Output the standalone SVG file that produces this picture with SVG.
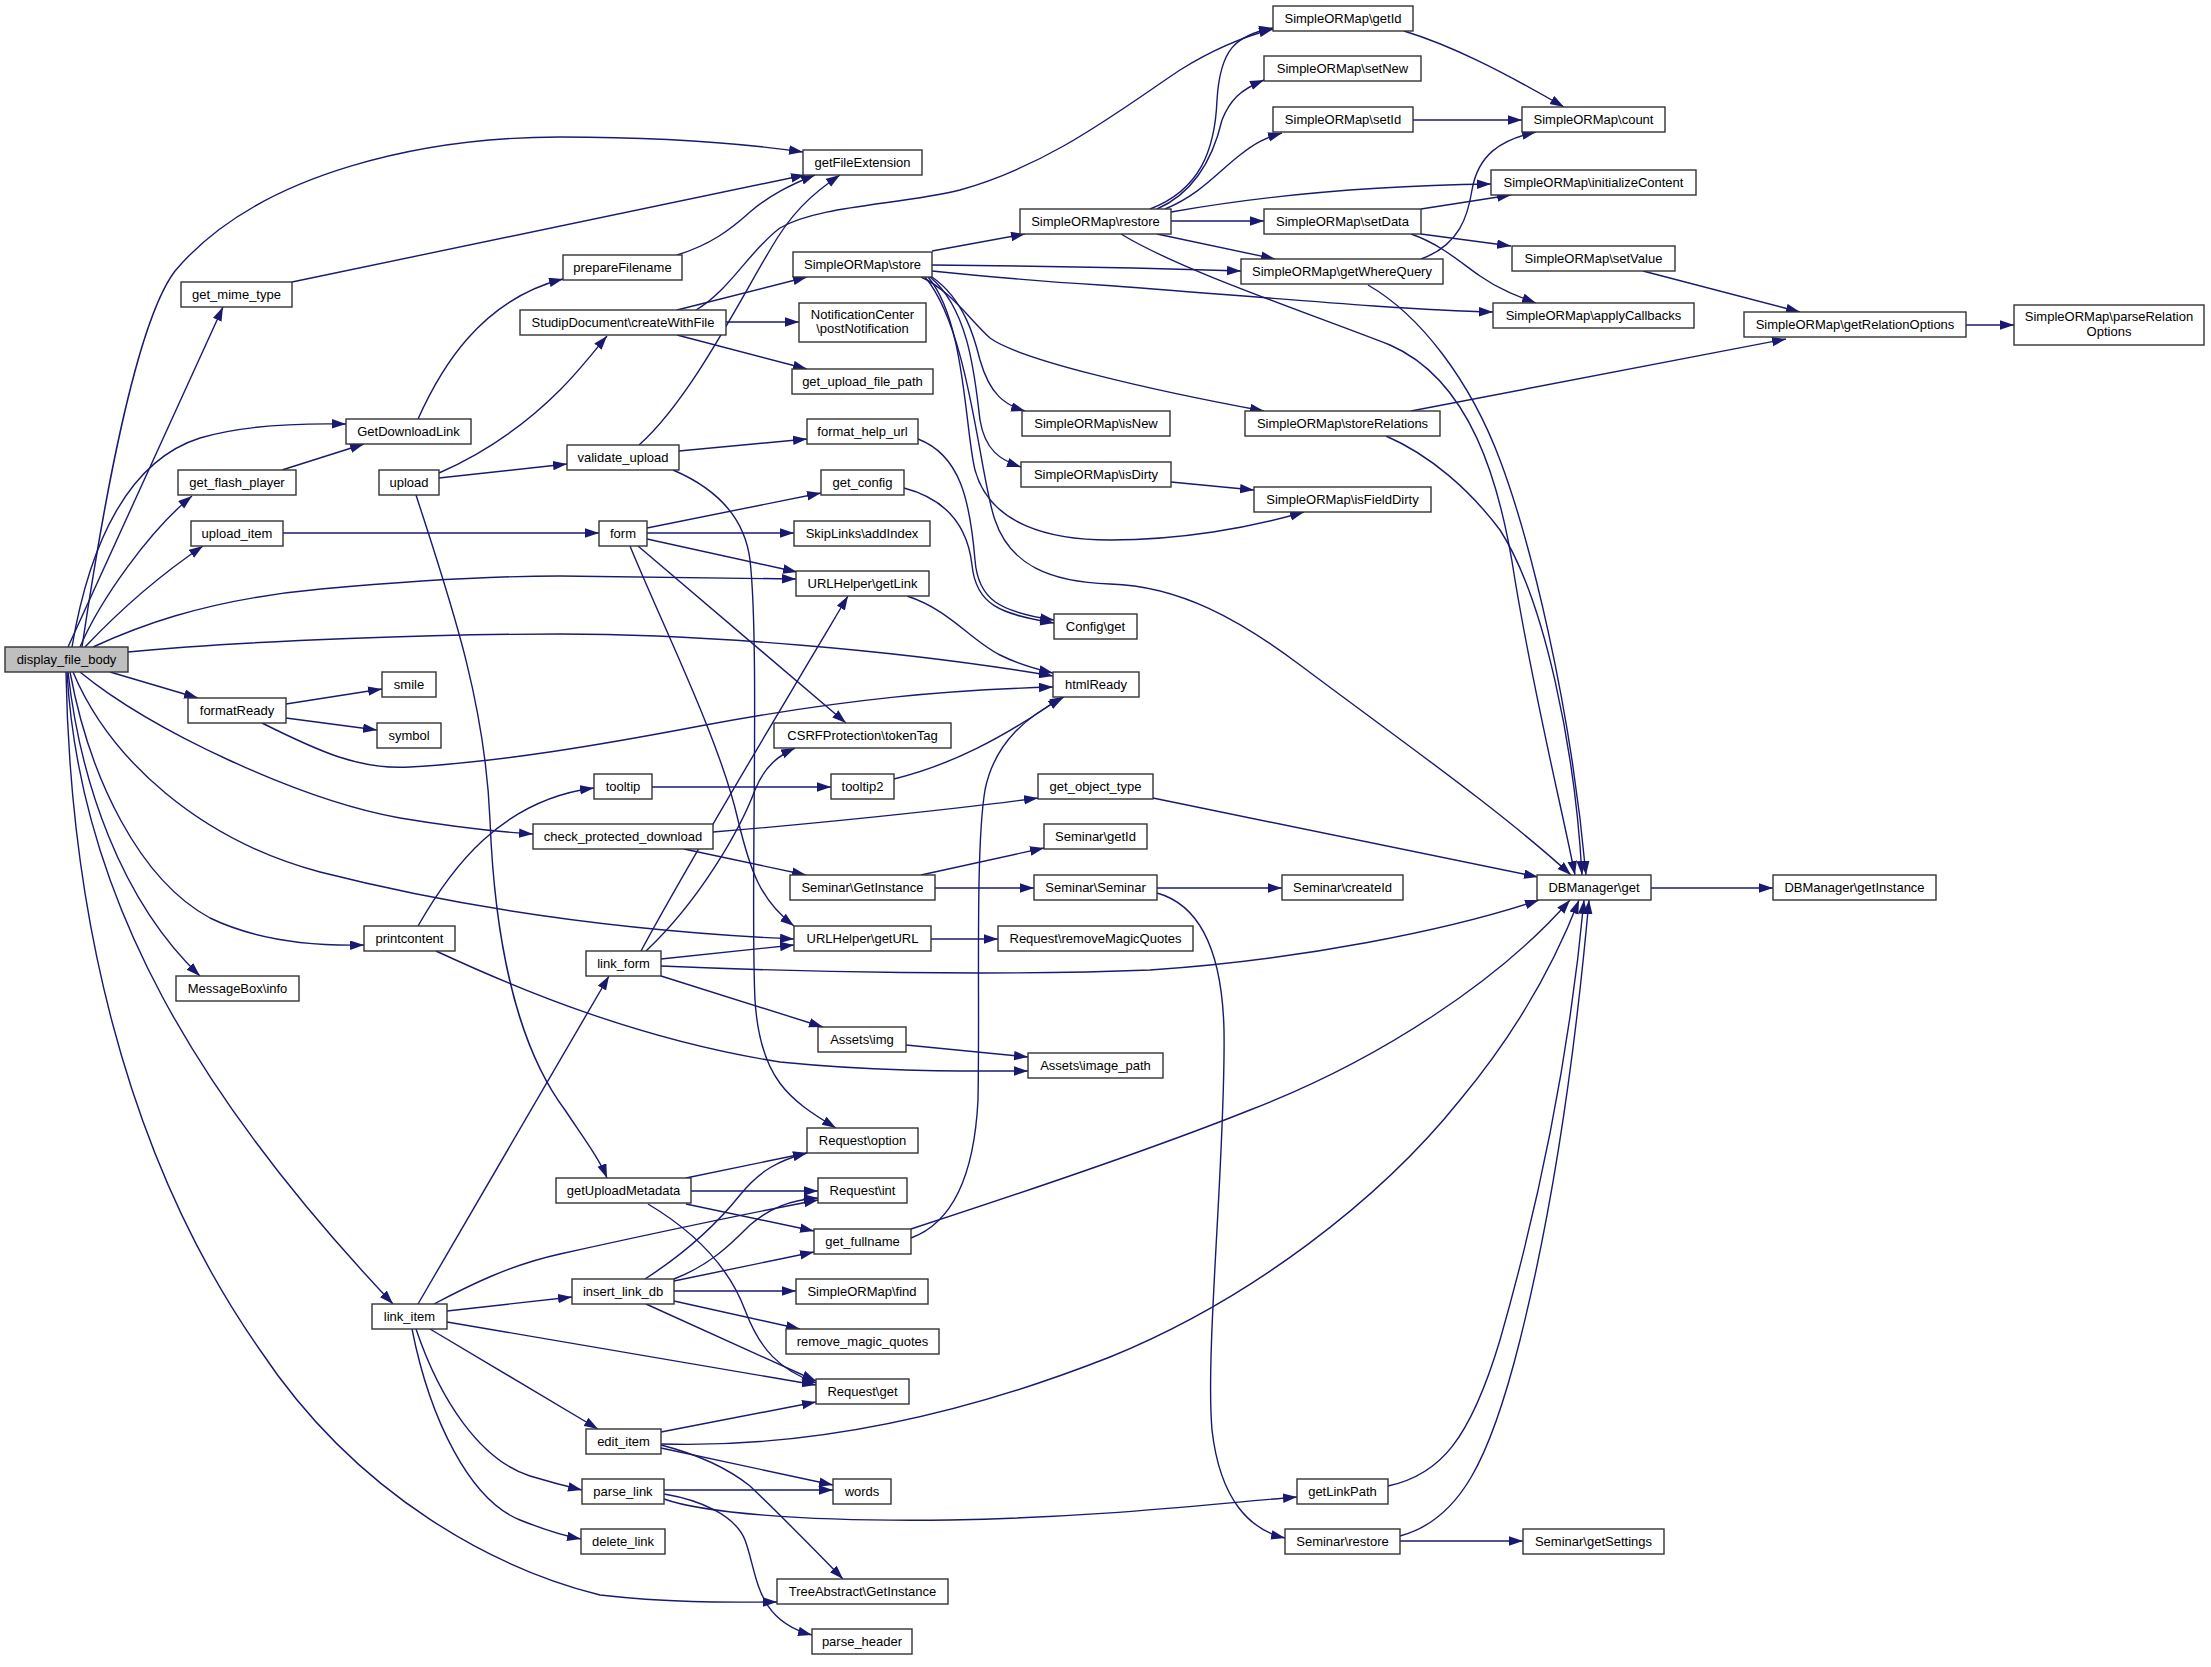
<svg xmlns="http://www.w3.org/2000/svg" width="2211" height="1667" viewBox="0 0 2211 1667">
<style>
.n rect{fill:#fff;stroke:#333;stroke-width:1.4}
.n text{font-family:"Liberation Sans",Arial,sans-serif;font-size:13px;text-anchor:middle;fill:#000}
#n1 rect{fill:#bfbfbf}
.e path{fill:none;stroke:#191970;stroke-width:1.4;marker-end:url(#a)}
</style>
<defs>
<marker id="a" markerUnits="userSpaceOnUse" markerWidth="15" markerHeight="10" refX="14" refY="4.75" orient="auto"><path d="M0,0 L14,4.75 L0,9.5 z" fill="#191970"/></marker>
</defs>
<rect width="2211" height="1667" fill="#fff"/>
<g id="edges" class="e">
<path d="M82,647 C95,560 130,330 175,271 C260,170 430,137 560,137 C660,137 740,143 803,152"/>
<path d="M68,647 L223,307"/>
<path d="M72,647 C90,540 130,460 200,438 C240,426 290,423 346,424"/>
<path d="M80,647 C100,600 150,530 192,496"/>
<path d="M85,647 C120,610 160,575 203,546"/>
<path d="M93,647 C130,630 200,600 321,589 C420,580 500,576 560,576 L796,579"/>
<path d="M128,652 C250,640 450,634 560,634 C700,634 900,650 1053,676"/>
<path d="M110,672 L198,698"/>
<path d="M80,672 C150,730 300,800 400,818 C460,828 500,832 533,834"/>
<path d="M73,672 C110,760 200,840 320,872 C450,905 600,930 794,939"/>
<path d="M70,672 C90,780 140,880 210,918 C260,942 320,946 364,945"/>
<path d="M68,672 C80,780 120,900 200,976"/>
<path d="M67,672 C80,900 200,1100 393,1304"/>
<path d="M66,672 C70,900 120,1150 260,1350 C360,1500 500,1570 600,1595 C680,1604 740,1602 777,1602"/>
<path d="M286,704 L382,689"/>
<path d="M286,718 L377,730"/>
<path d="M262,723 C320,752 360,770 410,767 C500,762 600,745 700,726 C850,698 950,690 1053,687"/>
<path d="M418,926 C450,870 500,800 594,788"/>
<path d="M436,951 C520,990 640,1040 780,1062 C880,1072 960,1071 1028,1071"/>
<path d="M652,787 L831,787"/>
<path d="M894,779 C950,765 1000,740 1062,697"/>
<path d="M713,832 C800,825 950,810 1038,798"/>
<path d="M684,849 L806,875"/>
<path d="M921,875 L1044,848"/>
<path d="M935,888 L1034,888"/>
<path d="M1157,888 L1282,888"/>
<path d="M1157,893 C1200,905 1222,950 1224,1030 C1226,1150 1205,1350 1212,1430 C1220,1500 1250,1530 1285,1538"/>
<path d="M1400,1541 L1523,1541"/>
<path d="M1400,1536 C1460,1520 1490,1460 1520,1340 C1560,1180 1580,1000 1589,900"/>
<path d="M1388,1486 C1440,1475 1470,1440 1500,1340 C1540,1200 1570,1050 1584,900"/>
<path d="M931,939 L998,939"/>
<path d="M907,596 C950,610 970,640 1000,655 C1020,665 1040,670 1053,673"/>
<path d="M641,951 C690,860 780,710 848,596"/>
<path d="M646,951 C700,900 740,830 755,790 C765,765 780,755 795,748"/>
<path d="M661,959 L794,945"/>
<path d="M661,966 C800,972 1000,976 1150,970 C1300,960 1450,930 1539,900"/>
<path d="M661,976 L823,1027"/>
<path d="M906,1045 L1028,1057"/>
<path d="M283,533 L599,533"/>
<path d="M647,528 L821,493"/>
<path d="M647,533 L794,533"/>
<path d="M647,539 L797,572"/>
<path d="M638,546 L846,723"/>
<path d="M630,546 C660,620 720,740 738,820 C750,870 760,900 794,926"/>
<path d="M439,478 L567,464"/>
<path d="M679,451 L807,439"/>
<path d="M639,445 C690,400 740,300 770,250 C790,215 810,195 840,175"/>
<path d="M673,470 C720,490 745,520 750,560 C760,650 750,900 755,1000 C760,1080 790,1100 836,1128"/>
<path d="M918,439 C960,455 970,500 975,560 C978,600 1000,612 1054,620"/>
<path d="M904,488 C950,500 968,530 972,565 C976,605 1000,614 1054,623"/>
<path d="M439,473 C480,455 520,430 560,390 C580,370 595,350 607,336"/>
<path d="M726,322 L799,322"/>
<path d="M677,335 L807,369"/>
<path d="M677,310 L807,277"/>
<path d="M696,310 C730,290 750,250 780,228 C820,205 900,205 960,190 C1050,165 1120,110 1180,70 C1220,45 1250,35 1273,29"/>
<path d="M282,470 L364,444"/>
<path d="M418,419 C440,370 480,300 563,279"/>
<path d="M292,282 L805,175"/>
<path d="M677,255 C710,245 730,230 750,212 C770,195 790,185 815,175"/>
<path d="M932,251 L1025,234"/>
<path d="M932,265 C1050,266 1150,268 1241,271"/>
<path d="M932,271 C1000,278 1050,282 1100,285 C1250,296 1400,310 1493,312"/>
<path d="M921,277 C950,290 970,320 990,338 C1020,360 1150,390 1264,411"/>
<path d="M932,277 C965,300 975,340 980,360 C990,395 1005,405 1025,411"/>
<path d="M930,277 C970,310 975,380 980,420 C985,450 1000,460 1021,467"/>
<path d="M928,277 C965,320 965,430 975,470 C990,525 1050,540 1110,540 C1180,540 1250,528 1304,512"/>
<path d="M925,277 C970,330 980,480 995,520 C1010,565 1050,582 1110,584 C1180,586 1240,620 1300,665 C1400,740 1500,810 1571,875"/>
<path d="M1150,209 C1200,190 1215,150 1217,100 C1220,50 1235,35 1273,28"/>
<path d="M1157,209 C1200,190 1215,150 1222,120 C1230,100 1240,90 1264,80"/>
<path d="M1165,209 C1200,195 1220,170 1240,155 C1255,143 1265,138 1282,133"/>
<path d="M1171,212 C1250,198 1350,186 1491,184"/>
<path d="M1171,221 L1264,221"/>
<path d="M1157,234 L1275,259"/>
<path d="M1121,234 C1180,270 1300,310 1390,345 C1470,380 1500,480 1515,580 C1535,700 1560,800 1575,875"/>
<path d="M1421,259 C1460,245 1468,215 1472,190 C1478,155 1500,140 1536,132"/>
<path d="M1368,285 C1420,315 1470,380 1500,460 C1530,540 1570,700 1586,875"/>
<path d="M1411,411 L1786,339"/>
<path d="M1386,436 C1430,455 1470,490 1500,530 C1545,600 1575,750 1582,875"/>
<path d="M1404,31 C1450,45 1500,70 1564,107"/>
<path d="M1413,120 L1522,120"/>
<path d="M1421,209 L1511,195"/>
<path d="M1421,234 L1511,246"/>
<path d="M1411,234 C1440,244 1460,262 1480,276 C1500,290 1520,297 1536,303"/>
<path d="M1643,271 L1800,312"/>
<path d="M1966,325 L2014,325"/>
<path d="M1171,482 L1254,490"/>
<path d="M1651,888 L1773,888"/>
<path d="M1153,798 L1538,877"/>
<path d="M911,1229 C1000,1200 1150,1150 1250,1110 C1380,1060 1500,980 1570,900"/>
<path d="M911,1238 C960,1220 975,1160 978,1100 C980,1000 975,850 985,790 C995,740 1030,715 1064,697"/>
<path d="M416,495 C450,600 485,700 490,820 C495,950 520,1050 565,1110 C585,1140 600,1160 607,1178"/>
<path d="M686,1178 L807,1153"/>
<path d="M691,1191 L818,1191"/>
<path d="M686,1204 L814,1231"/>
<path d="M648,1204 C700,1235 730,1270 745,1310 C760,1350 780,1370 816,1383"/>
<path d="M645,1279 C690,1250 720,1220 740,1195 C760,1170 780,1160 807,1153"/>
<path d="M674,1279 C710,1265 730,1245 750,1225 C770,1208 790,1200 818,1198"/>
<path d="M674,1281 L814,1252"/>
<path d="M674,1291 L796,1291"/>
<path d="M674,1301 L800,1329"/>
<path d="M646,1304 L816,1381"/>
<path d="M434,1304 C470,1285 510,1265 560,1254 C650,1234 740,1215 818,1200"/>
<path d="M447,1311 L572,1297"/>
<path d="M447,1322 L816,1385"/>
<path d="M430,1329 L598,1429"/>
<path d="M416,1329 C440,1400 480,1460 530,1476 C550,1482 565,1486 582,1490"/>
<path d="M412,1329 C430,1420 470,1500 520,1520 C545,1530 560,1535 581,1539"/>
<path d="M418,1304 L609,976"/>
<path d="M661,1432 L816,1402"/>
<path d="M661,1444 C800,1448 950,1420 1110,1357 C1250,1300 1380,1200 1460,1100 C1510,1040 1550,975 1579,900"/>
<path d="M661,1448 L833,1485"/>
<path d="M661,1445 C700,1455 730,1470 750,1486 C775,1510 810,1545 843,1579"/>
<path d="M664,1490 L833,1490"/>
<path d="M664,1499 C700,1512 800,1522 950,1520 C1100,1517 1200,1505 1297,1497"/>
<path d="M664,1494 C700,1500 735,1515 745,1540 C758,1575 755,1620 812,1635"/>
</g>
<g id="n1" class="n"><rect x="5" y="647" width="123" height="25"/><text x="66.5" y="664">display_file_body</text></g>
<g id="n2" class="n"><rect x="181" y="282" width="111" height="25"/><text x="236.5" y="299">get_mime_type</text></g>
<g id="n3" class="n"><rect x="346" y="419" width="125" height="25"/><text x="408.5" y="436">GetDownloadLink</text></g>
<g id="n4" class="n"><rect x="178" y="470" width="118" height="25"/><text x="237" y="487">get_flash_player</text></g>
<g id="n5" class="n"><rect x="191" y="521" width="92" height="25"/><text x="237" y="538">upload_item</text></g>
<g id="n6" class="n"><rect x="188" y="698" width="98" height="25"/><text x="237" y="715">formatReady</text></g>
<g id="n7" class="n"><rect x="382" y="672" width="54" height="25"/><text x="409" y="689">smile</text></g>
<g id="n8" class="n"><rect x="377" y="723" width="64" height="25"/><text x="409" y="740">symbol</text></g>
<g id="n9" class="n"><rect x="533" y="824" width="180" height="25"/><text x="623" y="841">check_protected_download</text></g>
<g id="n10" class="n"><rect x="364" y="926" width="91" height="25"/><text x="409.5" y="943">printcontent</text></g>
<g id="n11" class="n"><rect x="176" y="976" width="123" height="25"/><text x="237.5" y="993">MessageBox\info</text></g>
<g id="n12" class="n"><rect x="372" y="1304" width="75" height="25"/><text x="409.5" y="1321">link_item</text></g>
<g id="n13" class="n"><rect x="803" y="150" width="119" height="25"/><text x="862.5" y="167">getFileExtension</text></g>
<g id="n14" class="n"><rect x="563" y="255" width="119" height="25"/><text x="622.5" y="272">prepareFilename</text></g>
<g id="n15" class="n"><rect x="520" y="310" width="206" height="25"/><text x="623" y="327">StudipDocument\createWithFile</text></g>
<g id="n16" class="n"><rect x="379" y="470" width="60" height="25"/><text x="409" y="487">upload</text></g>
<g id="n17" class="n"><rect x="567" y="445" width="112" height="25"/><text x="623" y="462">validate_upload</text></g>
<g id="n18" class="n"><rect x="599" y="521" width="48" height="25"/><text x="623" y="538">form</text></g>
<g id="n19" class="n"><rect x="793" y="252" width="139" height="25"/><text x="862.5" y="269">SimpleORMap\store</text></g>
<g id="n20" class="n"><rect x="799" y="303" width="127" height="39"/><text x="862.5" y="319">NotificationCenter</text><text x="862.5" y="333">\postNotification</text></g>
<g id="n21" class="n"><rect x="792" y="369" width="141" height="25"/><text x="862.5" y="386">get_upload_file_path</text></g>
<g id="n22" class="n"><rect x="807" y="419" width="111" height="25"/><text x="862.5" y="436">format_help_url</text></g>
<g id="n23" class="n"><rect x="821" y="470" width="83" height="25"/><text x="862.5" y="487">get_config</text></g>
<g id="n24" class="n"><rect x="794" y="521" width="136" height="25"/><text x="862" y="538">SkipLinks\addIndex</text></g>
<g id="n25" class="n"><rect x="796" y="571" width="133" height="25"/><text x="862.5" y="588">URLHelper\getLink</text></g>
<g id="n26" class="n"><rect x="774" y="723" width="177" height="25"/><text x="862.5" y="740">CSRFProtection\tokenTag</text></g>
<g id="n27" class="n"><rect x="594" y="774" width="58" height="25"/><text x="623" y="791">tooltip</text></g>
<g id="n28" class="n"><rect x="831" y="774" width="63" height="25"/><text x="862.5" y="791">tooltip2</text></g>
<g id="n29" class="n"><rect x="790" y="875" width="145" height="25"/><text x="862.5" y="892">Seminar\GetInstance</text></g>
<g id="n30" class="n"><rect x="794" y="926" width="137" height="25"/><text x="862.5" y="943">URLHelper\getURL</text></g>
<g id="n31" class="n"><rect x="586" y="951" width="75" height="25"/><text x="623.5" y="968">link_form</text></g>
<g id="n32" class="n"><rect x="818" y="1027" width="88" height="25"/><text x="862" y="1044">Assets\img</text></g>
<g id="n33" class="n"><rect x="556" y="1178" width="135" height="25"/><text x="623.5" y="1195">getUploadMetadata</text></g>
<g id="n34" class="n"><rect x="807" y="1128" width="111" height="25"/><text x="862.5" y="1145">Request\option</text></g>
<g id="n35" class="n"><rect x="818" y="1178" width="89" height="25"/><text x="862.5" y="1195">Request\int</text></g>
<g id="n36" class="n"><rect x="814" y="1229" width="97" height="25"/><text x="862.5" y="1246">get_fullname</text></g>
<g id="n37" class="n"><rect x="572" y="1279" width="102" height="25"/><text x="623" y="1296">insert_link_db</text></g>
<g id="n38" class="n"><rect x="796" y="1279" width="132" height="25"/><text x="862" y="1296">SimpleORMap\find</text></g>
<g id="n39" class="n"><rect x="786" y="1329" width="153" height="25"/><text x="862.5" y="1346">remove_magic_quotes</text></g>
<g id="n40" class="n"><rect x="816" y="1379" width="93" height="25"/><text x="862.5" y="1396">Request\get</text></g>
<g id="n41" class="n"><rect x="586" y="1429" width="75" height="25"/><text x="623.5" y="1446">edit_item</text></g>
<g id="n42" class="n"><rect x="833" y="1479" width="58" height="25"/><text x="862" y="1496">words</text></g>
<g id="n43" class="n"><rect x="582" y="1479" width="82" height="25"/><text x="623" y="1496">parse_link</text></g>
<g id="n44" class="n"><rect x="581" y="1529" width="84" height="25"/><text x="623" y="1546">delete_link</text></g>
<g id="n45" class="n"><rect x="777" y="1579" width="171" height="25"/><text x="862.5" y="1596">TreeAbstract\GetInstance</text></g>
<g id="n46" class="n"><rect x="812" y="1629" width="100" height="25"/><text x="862" y="1646">parse_header</text></g>
<g id="n47" class="n"><rect x="1020" y="209" width="151" height="25"/><text x="1095.5" y="226">SimpleORMap\restore</text></g>
<g id="n48" class="n"><rect x="1022" y="411" width="148" height="25"/><text x="1096" y="428">SimpleORMap\isNew</text></g>
<g id="n49" class="n"><rect x="1021" y="462" width="150" height="25"/><text x="1096" y="479">SimpleORMap\isDirty</text></g>
<g id="n50" class="n"><rect x="1054" y="614" width="83" height="25"/><text x="1095.5" y="631">Config\get</text></g>
<g id="n51" class="n"><rect x="1053" y="672" width="86" height="25"/><text x="1096" y="689">htmlReady</text></g>
<g id="n52" class="n"><rect x="1038" y="774" width="115" height="25"/><text x="1095.5" y="791">get_object_type</text></g>
<g id="n53" class="n"><rect x="1044" y="824" width="103" height="25"/><text x="1095.5" y="841">Seminar\getId</text></g>
<g id="n54" class="n"><rect x="1034" y="875" width="123" height="25"/><text x="1095.5" y="892">Seminar\Seminar</text></g>
<g id="n55" class="n"><rect x="998" y="926" width="195" height="25"/><text x="1095.5" y="943">Request\removeMagicQuotes</text></g>
<g id="n56" class="n"><rect x="1028" y="1053" width="135" height="25"/><text x="1095.5" y="1070">Assets\image_path</text></g>
<g id="n57" class="n"><rect x="1273" y="6" width="140" height="25"/><text x="1343" y="23">SimpleORMap\getId</text></g>
<g id="n58" class="n"><rect x="1264" y="56" width="157" height="25"/><text x="1342.5" y="73">SimpleORMap\setNew</text></g>
<g id="n59" class="n"><rect x="1273" y="107" width="140" height="25"/><text x="1343" y="124">SimpleORMap\setId</text></g>
<g id="n60" class="n"><rect x="1264" y="209" width="157" height="25"/><text x="1342.5" y="226">SimpleORMap\setData</text></g>
<g id="n61" class="n"><rect x="1241" y="259" width="202" height="25"/><text x="1342" y="276">SimpleORMap\getWhereQuery</text></g>
<g id="n62" class="n"><rect x="1245" y="411" width="195" height="25"/><text x="1342.5" y="428">SimpleORMap\storeRelations</text></g>
<g id="n63" class="n"><rect x="1254" y="487" width="177" height="25"/><text x="1342.5" y="504">SimpleORMap\isFieldDirty</text></g>
<g id="n64" class="n"><rect x="1282" y="875" width="121" height="25"/><text x="1342.5" y="892">Seminar\createId</text></g>
<g id="n65" class="n"><rect x="1297" y="1479" width="91" height="25"/><text x="1342.5" y="1496">getLinkPath</text></g>
<g id="n66" class="n"><rect x="1285" y="1529" width="115" height="25"/><text x="1342.5" y="1546">Seminar\restore</text></g>
<g id="n67" class="n"><rect x="1522" y="107" width="143" height="25"/><text x="1593.5" y="124">SimpleORMap\count</text></g>
<g id="n68" class="n"><rect x="1491" y="170" width="205" height="25"/><text x="1593.5" y="187">SimpleORMap\initializeContent</text></g>
<g id="n69" class="n"><rect x="1512" y="246" width="163" height="25"/><text x="1593.5" y="263">SimpleORMap\setValue</text></g>
<g id="n70" class="n"><rect x="1493" y="303" width="201" height="25"/><text x="1593.5" y="320">SimpleORMap\applyCallbacks</text></g>
<g id="n71" class="n"><rect x="1537" y="875" width="114" height="25"/><text x="1594" y="892">DBManager\get</text></g>
<g id="n72" class="n"><rect x="1523" y="1529" width="141" height="25"/><text x="1593.5" y="1546">Seminar\getSettings</text></g>
<g id="n73" class="n"><rect x="1744" y="312" width="222" height="25"/><text x="1855" y="329">SimpleORMap\getRelationOptions</text></g>
<g id="n74" class="n"><rect x="2014" y="305" width="190" height="40"/><text x="2109" y="320.5">SimpleORMap\parseRelation</text><text x="2109" y="336">Options</text></g>
<g id="n75" class="n"><rect x="1773" y="875" width="163" height="25"/><text x="1854.5" y="892">DBManager\getInstance</text></g>
</svg>
